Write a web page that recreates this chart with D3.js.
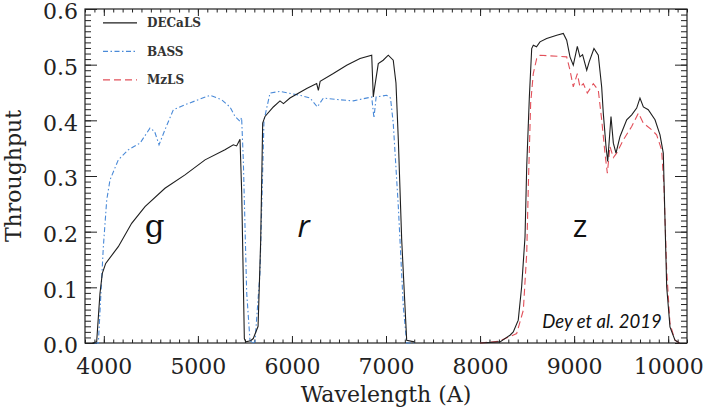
<!DOCTYPE html>
<html>
<head>
<meta charset="utf-8">
<script src="https://cdn.jsdelivr.net/npm/d3@7"></script>
<style>
   body { margin: 0; background: #fff; }
   svg { display: block; }
   .tick text { font-family: "DejaVu Serif", serif; font-size: 22px; fill: #222; }
</style>
</head>
<body>
<svg width="705" height="409"></svg>
<script>
const WIDTH = 705;
const HEIGHT = 409;
const margin = { top: 9, right: 18, bottom: 66, left: 85 };

// [wavelength (A), throughput]
const decalsG = [[3880, 0], [3924, 0.002], [3959, 0.089], [3984, 0.125], [4020, 0.143], [4154, 0.173],
   [4296, 0.215], [4438, 0.245], [4650, 0.278], [4863, 0.302], [5076, 0.329], [5288, 0.347],
   [5377, 0.356], [5412, 0.354], [5448, 0.366], [5466, 0.27], [5494, 0.008], [5510, 0.002], [5560, 0.004]];
const decalsR = [[5560, 0.004], [5589, 0.008], [5640, 0.03], [5668, 0.185], [5689, 0.395], [5714, 0.407],
   [5802, 0.424], [5873, 0.435], [5910, 0.43], [5979, 0.44], [6157, 0.457], [6263, 0.466], [6281, 0.454],
   [6300, 0.47], [6440, 0.484], [6582, 0.499], [6724, 0.511], [6848, 0.517], [6865, 0.442], [6880, 0.46],
   [6918, 0.502], [6970, 0.508], [7024, 0.517], [7077, 0.508], [7106, 0.467], [7131, 0.365],
   [7167, 0.185], [7202, 0.065], [7220, 0.005], [7300, 0.002]];
const decalsZ = [[8000, 0.0], [8212, 0.002], [8318, 0.014], [8353, 0.02], [8406, 0.041], [8442, 0.101],
   [8478, 0.191], [8496, 0.317], [8524, 0.442], [8549, 0.529], [8566, 0.535], [8600, 0.532],
   [8637, 0.541], [8708, 0.547], [8815, 0.553], [8885, 0.556], [8921, 0.544], [8956, 0.514],
   [8991, 0.499], [9034, 0.533], [9062, 0.514], [9090, 0.518], [9134, 0.49], [9160, 0.505],
   [9211, 0.529], [9257, 0.517], [9293, 0.46], [9310, 0.413], [9339, 0.353], [9357, 0.326],
   [9392, 0.407], [9417, 0.359], [9445, 0.341], [9488, 0.371], [9559, 0.401], [9612, 0.41],
   [9665, 0.422], [9700, 0.44], [9736, 0.424], [9788, 0.419], [9860, 0.401], [9913, 0.374],
   [9948, 0.341], [9966, 0.221], [9984, 0.101], [10019, 0.029], [10072, 0.005], [10120, 0.0]];
const bassG = [[3900, 0], [3942, 0.0], [3995, 0.173], [4031, 0.257], [4066, 0.293], [4154, 0.329],
   [4260, 0.347], [4385, 0.359], [4491, 0.386], [4540, 0.38], [4587, 0.356], [4650, 0.383],
   [4739, 0.419], [4863, 0.428], [5004, 0.437], [5129, 0.445], [5253, 0.437], [5341, 0.424],
   [5395, 0.407], [5448, 0.398], [5465, 0.405], [5483, 0.329], [5519, 0.09], [5554, 0.005], [5580, 0.0]];
const bassR = [[5580, 0.0], [5607, 0.002], [5660, 0.125], [5703, 0.4], [5767, 0.449], [5873, 0.452],
   [6086, 0.445], [6193, 0.44], [6270, 0.424], [6334, 0.44], [6511, 0.437], [6652, 0.435],
   [6848, 0.442], [6872, 0.404], [6895, 0.442], [7006, 0.445], [7048, 0.44], [7077, 0.395],
   [7131, 0.245], [7184, 0.065], [7220, 0.0], [7300, 0.0]];
const mzlsZ = [[8000, 0.0], [8200, 0.003], [8389, 0.017], [8460, 0.059], [8496, 0.161], [8513, 0.281],
   [8538, 0.431], [8566, 0.484], [8602, 0.511], [8637, 0.517], [8921, 0.514], [8956, 0.49],
   [8991, 0.46], [9034, 0.484], [9062, 0.46], [9098, 0.466], [9140, 0.449], [9204, 0.466],
   [9257, 0.454], [9293, 0.401], [9328, 0.341], [9353, 0.305], [9381, 0.353], [9417, 0.333],
   [9452, 0.341], [9523, 0.365], [9612, 0.389], [9683, 0.413], [9736, 0.395], [9824, 0.383],
   [9877, 0.374], [9930, 0.347], [9955, 0.281], [9984, 0.131], [10019, 0.035], [10072, 0.005], [10120, 0.0]];

const xTicks = [4000, 5000, 6000, 7000, 8000, 9000, 10000];
const yTicks = [0.0, 0.1, 0.2, 0.3, 0.4, 0.5, 0.6];
const legendNames = ["DECaLS", "BASS", "MzLS"];
const bandNames = ["g", "r", "z"];
const bandCenters = [4540, 6125, 9062];

const COLORS = { DECaLS: "#1e1e1e", BASS: "#4a8ad8", MzLS: "#e2505a" };
const DASHES = { DECaLS: null, BASS: "5,2.5,1.5,2.5", MzLS: "7,4" };

const svg = d3.select("svg");
const x = d3.scaleLinear().domain([3800, 10200]).range([margin.left, WIDTH - margin.right]);
const y = d3.scaleLinear().domain([0, 0.6]).range([HEIGHT - margin.bottom, margin.top]);

// axes, ticks inward on all four sides
const minorX = d3.range(3800, 10201, 100);
const minorY = d3.range(0, 0.6001, 0.01);
const bottomY = y(0), topY = y(0.6), leftX = x(3800), rightX = x(10200);

function addAxis(axis, tx, ty) {
   const g = svg.append("g").attr("transform", `translate(${tx},${ty})`).call(axis);
   g.select(".domain").remove();
   g.selectAll(".tick line").attr("stroke", "#222");
   return g;
}
addAxis(d3.axisBottom(x).tickValues(minorX).tickSize(-3.5).tickFormat(""), 0, bottomY);
addAxis(d3.axisBottom(x).tickValues(xTicks).tickSize(-7).tickPadding(15).tickFormat(d3.format("d")), 0, bottomY);
addAxis(d3.axisTop(x).tickValues(minorX).tickSize(-3.5).tickFormat(""), 0, topY);
addAxis(d3.axisTop(x).tickValues(xTicks).tickSize(-7).tickFormat(""), 0, topY);
addAxis(d3.axisLeft(y).tickValues(minorY).tickSize(-6).tickFormat(""), leftX, 0);
addAxis(d3.axisLeft(y).tickValues(yTicks).tickSize(-12).tickPadding(7).tickFormat(d3.format(".1f")), leftX, 0)
   .selectAll(".tick text").attr("dy", "0.45em");
addAxis(d3.axisRight(y).tickValues(minorY).tickSize(-6).tickFormat(""), rightX, 0);
addAxis(d3.axisRight(y).tickValues(yTicks).tickSize(-12).tickFormat(""), rightX, 0);

svg.append("rect")
   .attr("x", leftX).attr("y", topY)
   .attr("width", rightX - leftX).attr("height", bottomY - topY)
   .attr("fill", "none").attr("stroke", "#222").attr("stroke-width", 1.2);

// curves
const line = d3.line().x(d => x(d[0])).y(d => y(d[1]));
const curves = [
   ["BASS", bassG], ["BASS", bassR],
   ["MzLS", mzlsZ],
   ["DECaLS", decalsG], ["DECaLS", decalsR], ["DECaLS", decalsZ]
];
svg.append("g").selectAll("path")
   .data(curves)
   .join("path")
   .attr("d", d => line(d[1]))
   .attr("fill", "none")
   .attr("stroke", d => COLORS[d[0]])
   .attr("stroke-width", 1.1)
   .attr("stroke-dasharray", d => DASHES[d[0]]);

// legend
const legend = svg.append("g").selectAll("g")
   .data(legendNames)
   .join("g")
   .attr("transform", (d, i) => `translate(0,${y(0.55) + i * 28.5 - 14})`);
legend.append("line")
   .attr("x1", 103).attr("x2", 137)
   .attr("stroke", d => COLORS[d])
   .attr("stroke-width", 1.1)
   .attr("stroke-dasharray", d => DASHES[d]);
legend.append("text")
   .attr("x", 147).attr("dy", "0.35em")
   .style("font-family", "DejaVu Serif, serif")
   .style("font-size", "12px")
   .style("font-weight", "bold")
   .attr("fill", "#333")
   .text(d => d);

// band letters
const bandFonts = [
   { family: "DejaVu Serif, serif", style: "normal" },
   { family: "Open Sans, sans-serif", style: "italic" },
   { family: "Open Sans, sans-serif", style: "normal" }
];
svg.append("g").selectAll("text")
   .data(bandNames)
   .join("text")
   .attr("x", (d, i) => x(bandCenters[i]))
   .attr("y", y(0.19))
   .attr("text-anchor", "middle")
   .style("font-family", (d, i) => bandFonts[i].family)
   .style("font-style", (d, i) => bandFonts[i].style)
   .style("font-size", "31px")
   .attr("fill", "#111")
   .text(d => d);

svg.append("text")
   .attr("x", 602).attr("y", 328)
   .attr("text-anchor", "middle")
   .style("font-family", "Lato, sans-serif")
   .style("font-style", "italic")
   .style("font-size", "18.5px")
   .attr("fill", "#111")
   .text("Dey et al. 2019");

// axis titles
svg.append("text")
   .attr("x", (leftX + rightX) / 2).attr("y", 402)
   .attr("text-anchor", "middle")
   .style("font-family", "DejaVu Serif, serif")
   .style("font-size", "22px")
   .attr("fill", "#222")
   .text("Wavelength (A)");

svg.append("text")
   .attr("transform", `translate(21,${(topY + bottomY) / 2}) rotate(-90)`)
   .attr("text-anchor", "middle")
   .style("font-family", "DejaVu Serif, serif")
   .style("font-size", "22px")
   .attr("fill", "#222")
   .text("Throughput");
</script>
</body>
</html>
